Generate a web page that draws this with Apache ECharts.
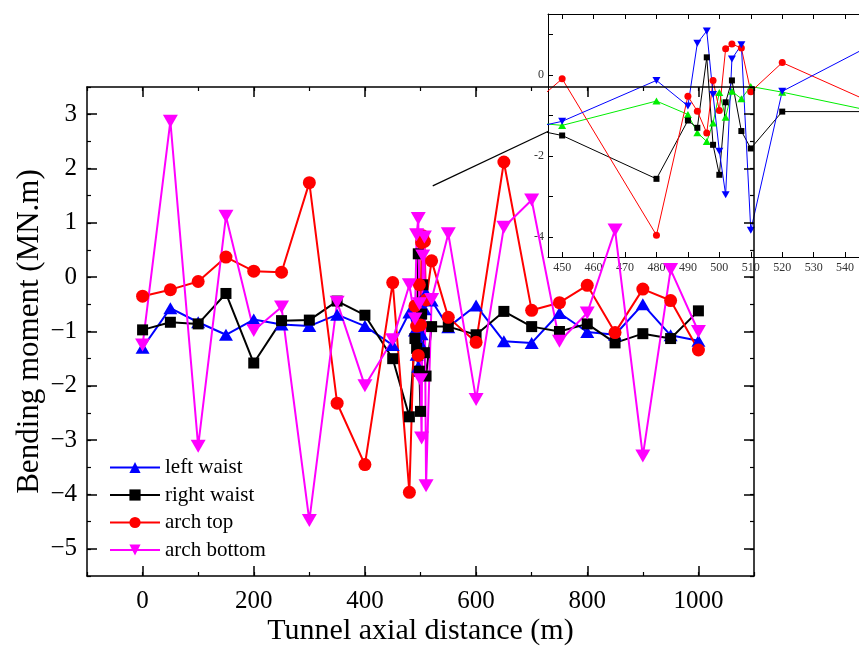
<!DOCTYPE html>
<html>
<head>
<meta charset="utf-8">
<script src="https://cdn.jsdelivr.net/npm/echarts@6/dist/echarts.min.js"></script>
<style>html,body{margin:0;padding:0;background:#fff}#c{width:859px;height:648px}</style>
</head>
<body>
<div id="c"></div>
<script>
// ---- data ----
const distance = [0,50,100,150,200,250,300,350,400,450,480,490,493,496,498,500,502,504,507,510,520,550,600,650,700,750,800,850,900,950,1000];
const leftWaist = [-1.30,-0.57,-0.83,-1.06,-0.78,-0.87,-0.90,-0.69,-0.90,-1.25,-0.65,-0.98,-1.43,-1.65,-1.19,-0.44,-1.05,-0.41,-0.59,-0.29,-0.43,-0.92,-0.52,-1.18,-1.21,-0.66,-1.01,-1.06,-0.50,-1.07,-1.17];
const rightWaist = [-0.97,-0.83,-0.86,-0.30,-1.58,-0.80,-0.79,-0.44,-0.70,-1.50,-2.57,-1.13,-1.31,0.43,-1.73,-2.47,-0.68,-0.14,-1.39,-1.82,-0.91,-0.91,-1.06,-0.63,-0.91,-1.00,-0.86,-1.21,-1.04,-1.13,-0.62];
const archTop = [-0.35,-0.23,-0.08,0.37,0.11,0.09,1.74,-2.32,-3.45,-0.10,-3.96,-0.53,-0.90,-1.44,-0.14,-0.88,0.64,0.76,0.66,-0.42,0.30,-0.74,-1.20,2.12,-0.61,-0.47,-0.15,-1.02,-0.22,-0.43,-1.34];
const archBottom = [-1.25,2.87,-3.11,1.12,-0.98,-0.55,-4.48,-0.46,-2.00,-1.15,-0.14,-0.77,0.78,1.08,-0.49,-1.89,-2.96,0.39,0.74,-3.84,-0.41,0.80,-2.25,0.92,1.42,-1.18,-0.66,0.87,-3.29,0.14,-1.00];
const seriesNames = ['left waist','right waist','arch top','arch bottom'];
const xTickLabels = [0,200,400,600,800,1000];
const yTickLabels = [-5,-4,-3,-2,-1,0,1,2,3];
const insetXTicks = [450,460,470,480,490,500,510,520,530,540];
const insetYLabels = [-4,-2,0];
const insetYTicks = [-4,-3,-2,-1,0,1];
const arrowStart = [522, 1.68];
const arrowEnd = [731, 2.69];

const pairs = v => distance.map((d,i)=>[d, v[i]]);
const FONT = "'Liberation Serif','Times New Roman',serif";

const mainCols = ['#0000ff','#000000','#ff0000','#ff00ff'];
const insetCols = ['#00ee00','#000000','#ff0000','#0000ff'];
const symbols = ['triangle','rect','circle','path://M0,0L10,0L5,8.66Z'];
const mainSizes = [[14,12],11,13,[15,13]];
const insetSizes = [[8,7],6,7,[8,7]];
const vals = [leftWaist,rightWaist,archTop,archBottom];

const series = [];
vals.forEach((v,i)=>{
  series.push({
    name: seriesNames[i]+' (detail)', type:'line', xAxisIndex:4, yAxisIndex:4,
    data: pairs(v), symbol: symbols[i], symbolSize: insetSizes[i], clip:true,
    lineStyle:{color:insetCols[i], width:1}, itemStyle:{color:insetCols[i]},
    z:3, animation:false
  });
});
vals.forEach((v,i)=>{
  const s = {
    name: seriesNames[i], type:'line', xAxisIndex:0, yAxisIndex:0,
    data: pairs(v), symbol: symbols[i], symbolSize: mainSizes[i],
    lineStyle:{color:mainCols[i], width:2}, itemStyle:{color:mainCols[i]},
    z:10, animation:false
  };
  if (i===1) {
    s.markLine = {
      silent:true, symbol:['none','arrow'], symbolSize:[0,9],
      label:{show:false}, lineStyle:{color:'#000', width:1.2, type:'solid'},
      data:[[{coord:arrowStart},{coord:arrowEnd}]], animation:false
    };
  }
  series.push(s);
});

const axLine = {show:true, onZero:false, lineStyle:{color:'#000', width:1.5}};
const thinLine = {show:true, onZero:false, lineStyle:{color:'#000', width:1}};
const noLine = {show:false, onZero:false};
const majTick = (vals, len) => ({show:true, inside:true, length:len, customValues:vals, lineStyle:{color:'#000', width:1.5}});
const minTick = (len) => ({show:true, inside:true, length:len, lineStyle:{color:'#000', width:1.2}});
const minusFmt = v => v < 0 ? '\u2212' + Math.abs(v) : String(v);

const option = {
  backgroundColor:'#fff',
  animation:false,
  grid:[
    {left:87, right:105, top:87, bottom:72, show:false, z:5, outerBoundsMode:'none', containLabel:false},
    {left:548, top:14, width:330, height:243, show:true, backgroundColor:'#fff', borderWidth:0, z:0, outerBoundsMode:'none', containLabel:false}
  ],
  legend:{
    data: seriesNames, orient:'vertical', left:104, top:452,
    itemWidth:50, itemHeight:14, itemGap:6.5,
    textStyle:{fontFamily:FONT, fontSize:21, color:'#000'}, z:20
  },
  xAxis:[
    {gridIndex:0, type:'value', position:'bottom', min:-100, max:1100, axisLine:axLine,
     axisTick:majTick(xTickLabels,10), splitLine:{show:false},
     axisLabel:{customValues:xTickLabels, formatter:v=>String(v), fontFamily:FONT, fontSize:25, color:'#000', margin:13},
     name:'Tunnel axial distance (m)', nameLocation:'middle', nameGap:40, nameMoveOverlap:false,
     nameTextStyle:{fontFamily:FONT, fontSize:30, color:'#000'}, z:10},
    {gridIndex:0, type:'value', position:'bottom', min:-100, max:1100, interval:100, axisLine:noLine,
     axisTick:minTick(4), axisLabel:{show:false}, splitLine:{show:false}, z:10},
    {gridIndex:0, type:'value', position:'top', min:-100, max:1100, axisLine:axLine,
     axisTick:majTick(xTickLabels,10), axisLabel:{show:false}, splitLine:{show:false}, z:10},
    {gridIndex:0, type:'value', position:'top', min:-100, max:1100, interval:100, axisLine:noLine,
     axisTick:minTick(4), axisLabel:{show:false}, splitLine:{show:false}, z:10},
    {gridIndex:1, type:'value', position:'bottom', min:445.5, max:445.5+330/3.144, axisLine:thinLine,
     axisTick:{show:true, inside:true, length:5, customValues:insetXTicks, lineStyle:{color:'#000'}}, splitLine:{show:false},
     axisLabel:{customValues:insetXTicks, formatter:v=>String(v), fontFamily:FONT, fontSize:12, color:'#333', margin:5}, z:2},
    {gridIndex:1, type:'value', position:'top', min:445.5, max:445.5+330/3.144, axisLine:thinLine,
     axisTick:{show:true, inside:true, length:5, customValues:insetXTicks, lineStyle:{color:'#000'}}, splitLine:{show:false},
     axisLabel:{show:false}, z:2}
  ],
  yAxis:[
    {gridIndex:0, type:'value', position:'left', min:-5.5, max:3.5, axisLine:axLine,
     axisTick:majTick(yTickLabels,10), splitLine:{show:false},
     axisLabel:{customValues:yTickLabels, formatter:minusFmt, fontFamily:FONT, fontSize:25, color:'#000', margin:10},
     name:'Bending moment (MN.m)', nameLocation:'middle', nameGap:42, nameRotate:90, nameMoveOverlap:false,
     nameTextStyle:{fontFamily:FONT, fontSize:31, color:'#000'}, z:10},
    {gridIndex:0, type:'value', position:'left', min:-5.5, max:3.5, interval:0.5, axisLine:noLine,
     axisTick:minTick(4), axisLabel:{show:false}, splitLine:{show:false}, z:10},
    {gridIndex:0, type:'value', position:'right', min:-5.5, max:3.5, axisLine:axLine,
     axisTick:majTick(yTickLabels,10), axisLabel:{show:false}, splitLine:{show:false}, z:10},
    {gridIndex:0, type:'value', position:'right', min:-5.5, max:3.5, interval:0.5, axisLine:noLine,
     axisTick:minTick(4), axisLabel:{show:false}, splitLine:{show:false}, z:10},
    {gridIndex:1, type:'value', position:'left', min:-4.5, max:1.5, axisLine:thinLine,
     axisTick:{show:true, inside:true, length:5, customValues:insetYTicks, lineStyle:{color:'#000'}}, splitLine:{show:false},
     axisLabel:{customValues:insetYLabels, fontFamily:FONT, fontSize:12, color:'#333', margin:4}, z:2}
  ],
  series: series
};
const chart = echarts.init(document.getElementById('c'), null, {renderer:'canvas'});
chart.setOption(option);
</script>
</body>
</html>
